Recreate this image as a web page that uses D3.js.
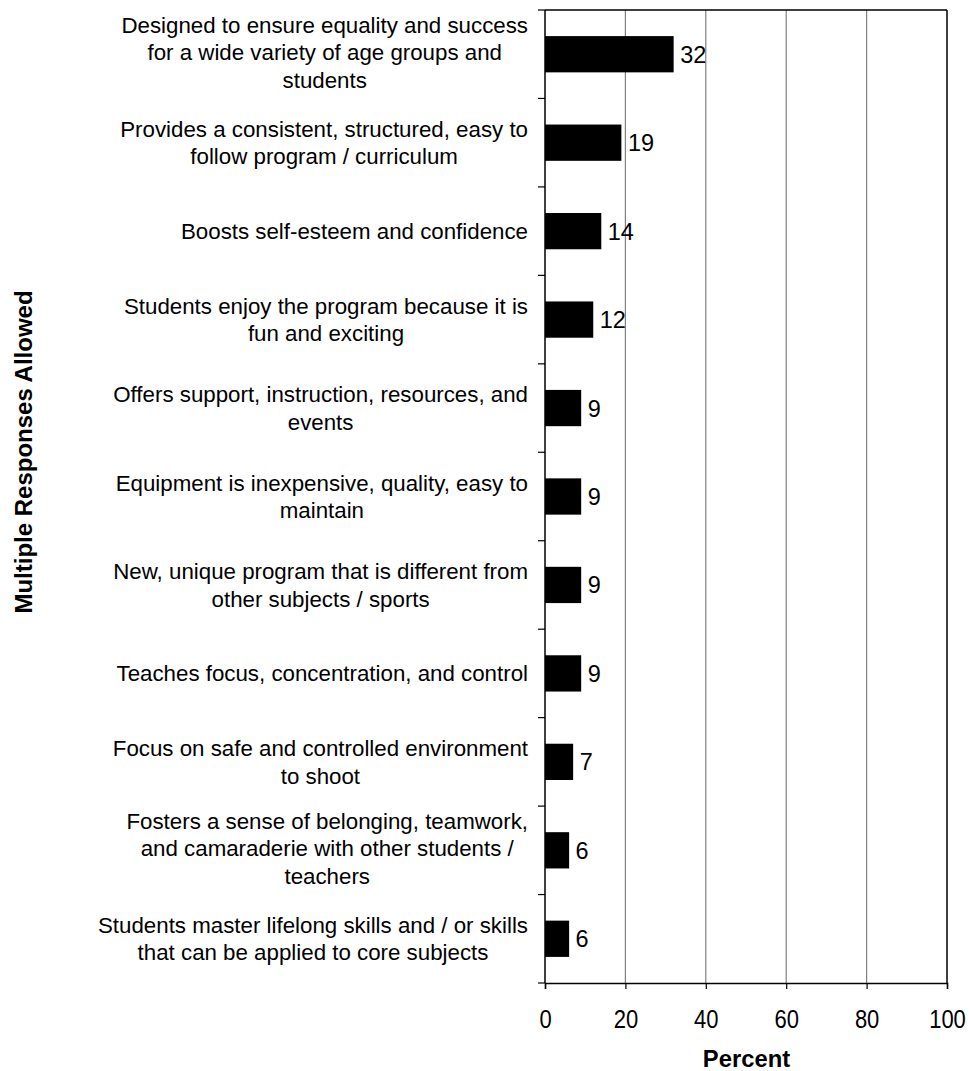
<!DOCTYPE html>
<html><head><meta charset="utf-8">
<script src="https://cdn.jsdelivr.net/npm/d3@7"></script>
<style>body{margin:0;background:#fff}svg{display:block}text{font-family:Arial,"Liberation Sans",sans-serif;fill:#000}</style>
</head><body><svg id="c" width="970" height="1071"></svg>
<script>
const categories = [
  ["Designed to ensure equality and success","for a wide variety of age groups and","students"],
  ["Provides a consistent, structured, easy to","follow program / curriculum"],
  ["Boosts self-esteem and confidence"],
  ["Students enjoy the program because it is","fun and exciting"],
  ["Offers support, instruction, resources, and","events"],
  ["Equipment is inexpensive, quality, easy to","maintain"],
  ["New, unique program that is different from","other subjects / sports"],
  ["Teaches focus, concentration, and control"],
  ["Focus on safe and controlled environment","to shoot"],
  ["Fosters a sense of belonging, teamwork,","and camaraderie with other students /","teachers"],
  ["Students master lifelong skills and / or skills","that can be applied to core subjects"]
];
const values = [32,19,14,12,9,9,9,9,7,6,6];
const xTicks = [0,20,40,60,80,100];
const xTitle = "Percent";
const yTitle = "Multiple Responses Allowed";

const svg = d3.select("#c");
const L = 545, R = 947, T = 10, B = 983;
const idx = d3.range(values.length);
const x = d3.scaleLinear().domain([0,100]).range([L,R]);
const y = d3.scaleBand().domain(idx).range([T,B]).padding(0);
const barH = y.bandwidth()*0.41;

// gridlines
svg.append("g").selectAll("line").data(xTicks.filter(t=>t>0&&t<100)).join("line")
  .attr("x1",d=>x(d)).attr("x2",d=>x(d)).attr("y1",T).attr("y2",B)
  .attr("stroke","#808080").attr("stroke-width",1.2);
// border top/right
svg.append("line").attr("x1",L).attr("x2",R).attr("y1",T).attr("y2",T).attr("stroke","#000").attr("stroke-width",1.5);
svg.append("line").attr("x1",R).attr("x2",R).attr("y1",T).attr("y2",B).attr("stroke","#000").attr("stroke-width",1.5);

// bars
svg.append("g").selectAll("rect").data(idx).join("rect")
  .attr("x",x(0)).attr("y",i=>y(i)+y.bandwidth()/2-barH/2)
  .attr("width",i=>x(values[i])-x(0)).attr("height",barH).attr("fill","#000");

// value labels
svg.append("g").selectAll("text").data(idx).join("text")
  .attr("x",i=>x(values[i])+6.5).attr("y",i=>y(i)+y.bandwidth()/2)
  .attr("dy","0.36em").attr("font-size",23.5).text(i=>values[i]);

// x axis
const xa = svg.append("g").attr("transform",`translate(0,${B})`)
  .call(d3.axisBottom(x).tickValues(xTicks).tickSize(6).tickPadding(21));
xa.select(".domain").attr("stroke-width",1.5);
xa.selectAll(".tick line").attr("stroke-width",1.2);
xa.selectAll("text").attr("font-size",22).attr("font-family","Arial, 'Liberation Sans', sans-serif")
  .each(function(){ const t=d3.select(this); const yy=+t.attr("y"); t.attr("y",0).attr("transform",`translate(0,${yy}) scale(1,1.15)`); });

// y axis (ticks at band boundaries)
const yEdges = d3.range(values.length+1).map(i=> i<values.length ? y(i) : B);
svg.append("line").attr("x1",L).attr("x2",L).attr("y1",T).attr("y2",B).attr("stroke","#000").attr("stroke-width",1.5);
svg.append("g").selectAll("line").data(yEdges).join("line")
  .attr("x1",L-7).attr("x2",L).attr("y1",d=>d).attr("y2",d=>d).attr("stroke","#000").attr("stroke-width",1.2);

// category labels: block right-aligned, lines centered
const lh = 27.3;
const lg = svg.append("g");
categories.forEach((lines,i)=>{
  const g = lg.append("g");
  const cy = y(i)+y.bandwidth()/2;
  const n = lines.length;
  const texts = lines.map((s,k)=>g.append("text").attr("font-size",22.3)
     .attr("y",cy+(k-(n-1)/2)*lh-(n>2?2:0)).attr("dy","0.36em").text(s));
  const w = d3.max(texts,t=>t.node().getComputedTextLength());
  const right = 528, cx = right - w/2;
  texts.forEach(t=>t.attr("x",cx).attr("text-anchor","middle"));
});

// titles
svg.append("text").attr("x",746.5).attr("y",1067).attr("text-anchor","middle")
  .attr("font-size",23.8).attr("font-weight","bold").text(xTitle);
svg.append("text").attr("transform","translate(32,452) rotate(-90)").attr("text-anchor","middle")
  .attr("font-size",24).attr("font-weight","bold").text(yTitle);
</script></body></html>
